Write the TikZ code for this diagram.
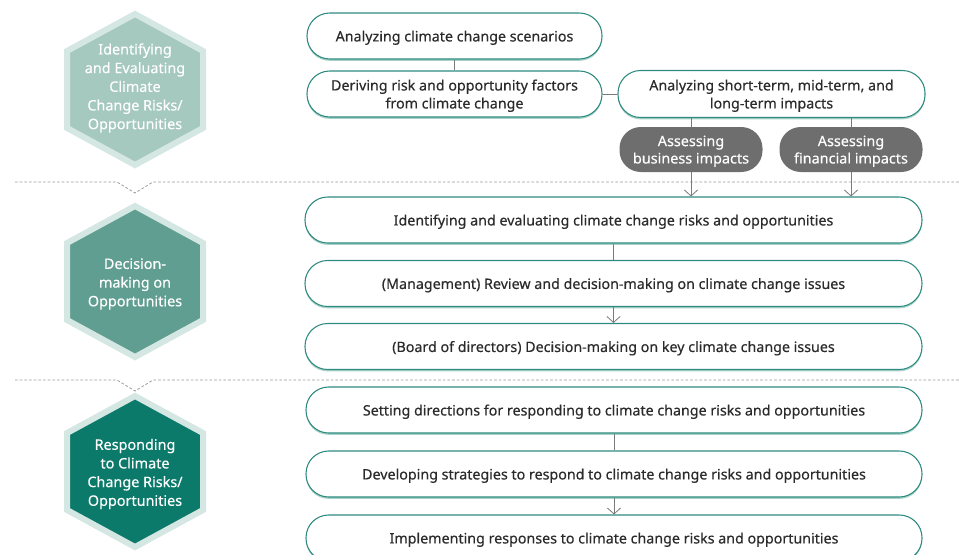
\documentclass[tikz,border=0pt]{standalone}
\usepackage{fontspec}
\setmainfont{Noto Sans}
\newfontfamily\boxfont{Noto Sans}[FakeBold=0.3]
\usetikzlibrary{arrows.meta,shadows}

\definecolor{tealline}{HTML}{2E8B80}
\definecolor{tealshadow}{HTML}{A9D2CA}
\definecolor{textgrey}{HTML}{2B2B2B}
\definecolor{pillgrey}{HTML}{6E6E6E}
\definecolor{linkgrey}{HTML}{7A7A7A}
\definecolor{sepgrey}{HTML}{9A9A9A}
\definecolor{hexrim}{HTML}{D5E7E2}
\definecolor{hexone}{HTML}{A5C8BF}
\definecolor{hextwo}{HTML}{5F9E91}
\definecolor{hexthree}{HTML}{0C7A6A}

\tikzset{
  stepbox/.style={draw=tealline, line width=0.8pt, fill=white, rounded corners=17pt,
    minimum height=34.5pt, inner sep=0pt, align=center, text=textgrey, text depth=0pt,
    font=\boxfont\fontsize{10.7}{13.5}\selectfont,
    drop shadow={shadow xshift=0pt, shadow yshift=-1.4pt, fill=tealshadow, opacity=1}},
  pillbox/.style={fill=pillgrey, rounded corners=16pt, minimum width=107.25pt,
    minimum height=33.75pt, inner sep=0pt, align=center, text=white, text depth=0pt,
    font=\boxfont\fontsize{10.8}{13}\selectfont},
  hexbox/.style={draw=hexrim, line width=4.5pt, line join=miter},
  hexlabel/.style={align=center, text=white, font=\boxfont\fontsize{10.8}{14}\selectfont},
  link/.style={draw=linkgrey, line width=0.6pt},
  flow/.style={link, -{Straight Barb[length=4.5pt, width=10pt]}},
  sepline/.style={draw=sepgrey, line width=0.6pt, dash pattern=on 2pt off 1.5pt}
}

\begin{document}
\begin{tikzpicture}[x=0.75pt, y=-0.75pt]
\useasboundingbox (0,0) rectangle (960,554);
\clip (0,0) rectangle (960,554);

% hexagons on the left
\filldraw[hexbox, fill=hexone] (135,14) -- ++(68,37) -- ++(0,77) -- ++(-68,37) -- ++(-68,-37) -- ++(0,-77) -- cycle;
\filldraw[hexbox, fill=hextwo] (135,206) -- ++(68,37) -- ++(0,77) -- ++(-68,37) -- ++(-68,-37) -- ++(0,-77) -- cycle;
\filldraw[hexbox, fill=hexthree] (135,396) -- ++(68,37) -- ++(0,77) -- ++(-68,37) -- ++(-68,-37) -- ++(0,-77) -- cycle;
\node[hexlabel] (hexa) at (135,88) {Identifying\\and Evaluating\\Climate\\Change Risks/\\Opportunities};
\node[hexlabel] (hexb) at (135,284) {Decision-\\making on\\Opportunities};
\node[hexlabel] (hexc) at (135,474) {Responding\\to Climate\\Change Risks/\\Opportunities};

% separators
\draw[sepline] (15,182) -- (117,182) -- (135,193) -- (153,182) -- (960,182);
\draw[sepline] (15,380) -- (117,380) -- (135,391) -- (153,380) -- (960,380);

% first stage
\node[stepbox, minimum width=221.25pt] (scen) at (454.5,36) {Analyzing climate change scenarios};
\node[stepbox, minimum width=221.25pt] (fact) at (454.5,94) {Deriving risk and opportunity factors\\from climate change};
\node[stepbox, minimum width=230.25pt, minimum height=35.25pt] (term) at (771.5,94) {Analyzing short-term, mid-term, and\\long-term impacts};
\node[pillbox] (busi) at (691,149.5) {Assessing\\business impacts};
\node[pillbox] (fina) at (851,149.5) {Assessing\\financial impacts};

% second stage
\node[stepbox, minimum width=462.75pt] (iden) at (613.5,220) {Identifying and evaluating climate change risks and opportunities};
\node[stepbox, minimum width=462.75pt] (mgmt) at (613.5,283.5) {(Management) Review and decision-making on climate change issues};
\node[stepbox, minimum width=462.75pt] (board) at (613.5,346.5) {(Board of directors) Decision-making on key climate change issues};

% third stage
\node[stepbox, minimum width=462pt] (dirs) at (614,410) {Setting directions for responding to climate change risks and opportunities};
\node[stepbox, minimum width=462pt] (strat) at (614,474) {Developing strategies to respond to climate change risks and opportunities};
\node[stepbox, minimum width=462pt] (impl) at (614,538) {Implementing responses to climate change risks and opportunities};

% connectors
\draw[link] (scen) -- (fact);
\draw[link] (fact) -- (term);
\draw[link] (busi |- term.south) -- (busi);
\draw[link] (fina |- term.south) -- (fina);
\draw[flow] (busi) -- (busi |- iden.north);
\draw[flow] (fina) -- (fina |- iden.north);
\draw[link] (iden) -- (mgmt);
\draw[flow] (mgmt) -- (board);
\draw[link] (dirs) -- (strat);
\draw[flow] (strat) -- (impl);
\end{tikzpicture}
\end{document}
